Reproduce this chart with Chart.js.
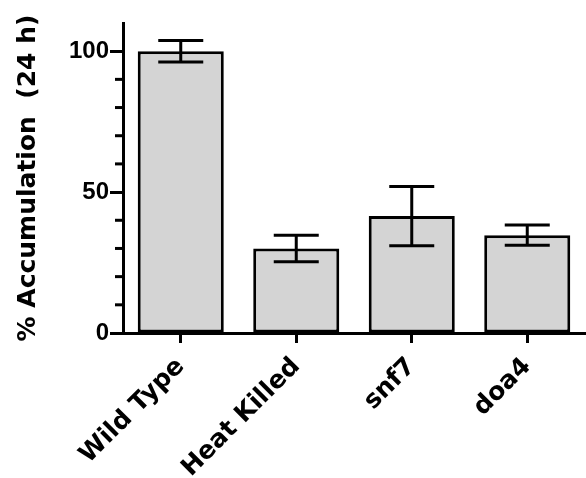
<!DOCTYPE html>
<html>
<head>
<meta charset="utf-8">
<script src="https://cdn.jsdelivr.net/npm/chart.js@4/dist/chart.umd.min.js"></script>
<style>
  html, body { margin: 0; padding: 0; background: #fff; }
  #wrap { width: 586px; height: 478px; position: relative; }
</style>
</head>
<body>
<div id="wrap"><canvas id="chart"></canvas></div>
<script>
// data
const categories = ['Wild Type', 'Heat Killed', 'snf7', 'doa4'];
const means = [100, 30, 41.5, 34.7];
const errors = [3.8, 4.7, 10.5, 3.6];
const yMax = 110;
const majorStep = 50;
const minorStep = 10;

// error bars (mean +/- error) through the y scale
const errorBars = {
    id: 'errorBars',
    afterDatasetsDraw(chart) {
        const { ctx, scales: { y } } = chart;
        const meta = chart.getDatasetMeta(0);
        ctx.save();
        ctx.strokeStyle = '#000';
        ctx.lineWidth = 3;
        ctx.lineCap = 'butt';
        meta.data.forEach((bar, i) => {
            const x = bar.x;
            const yTop = y.getPixelForValue(means[i] + errors[i]);
            const yBot = y.getPixelForValue(means[i] - errors[i]);
            const half = 22.5;
            ctx.beginPath();
            ctx.moveTo(x, yTop); ctx.lineTo(x, yBot);
            ctx.moveTo(x - half, yTop); ctx.lineTo(x + half, yTop);
            ctx.moveTo(x - half, yBot); ctx.lineTo(x + half, yBot);
            ctx.stroke();
        });
        ctx.restore();
    }
};

// short minor ticks on the y axis
const minorTicks = {
    id: 'minorTicks',
    afterDraw(chart) {
        const { ctx, scales: { y } } = chart;
        ctx.save();
        ctx.strokeStyle = '#000';
        ctx.lineWidth = 3;
        for (let v = minorStep; v < yMax; v += minorStep) {
            if (v % majorStep === 0) continue;
            const py = y.getPixelForValue(v);
            ctx.beginPath();
            ctx.moveTo(y.right - 8, py);
            ctx.lineTo(y.right, py);
            ctx.stroke();
        }
        ctx.restore();
    }
};

new Chart(document.getElementById('chart'), {
    type: 'bar',
    data: {
        labels: categories,
        datasets: [{
            data: means,
            backgroundColor: '#d4d4d4',
            borderColor: '#000',
            borderWidth: 3,
            borderSkipped: false,
            barPercentage: 0.745,
            categoryPercentage: 1,
        }],
    },
    options: {
        responsive: true,
        maintainAspectRatio: false,
        animation: false,
        layout: { padding: { top: 23, right: 1, left: 0, bottom: 0 } },
        plugins: { legend: { display: false }, tooltip: { enabled: false } },
        scales: {
            x: {
                offset: true,
                afterFit: s => { s.height = 145; },
                grid: { drawOnChartArea: false, drawTicks: true, tickLength: 10, tickWidth: 3, tickColor: '#000', offset: false },
                border: { display: true, width: 3, color: '#000' },
                ticks: {
                    color: '#000',
                    maxRotation: 45, minRotation: 45,
                    padding: 9,
                    font: { family: 'DejaVu Sans', weight: 'bold', size: 25 },
                },
            },
            y: {
                min: 0, max: yMax,
                afterFit: s => { s.width = 123; },
                grid: {
                    drawOnChartArea: false, drawTicks: true, tickLength: 13, tickWidth: 3,
                    tickColor: c => (c.tick && c.tick.value % majorStep === 0 && c.tick.value < yMax) ? '#000' : 'rgba(0,0,0,0)',
                },
                border: { display: true, width: 3, color: '#000' },
                ticks: {
                    stepSize: minorStep,
                    autoSkip: false,
                    color: '#000',
                    padding: 1,
                    font: { family: 'Liberation Sans', weight: 'bold', size: 24 },
                    callback: v => (v % majorStep === 0 && v < yMax) ? String(v) : '',
                },
                title: {
                    display: true,
                    text: '% Accumulation  (24 h)',
                    color: '#000',
                    padding: { top: 13, bottom: 0 },
                    font: { family: 'DejaVu Sans', weight: 'bold', size: 25 },
                },
            },
        },
    },
    plugins: [errorBars, minorTicks],
});
</script>
</body>
</html>
